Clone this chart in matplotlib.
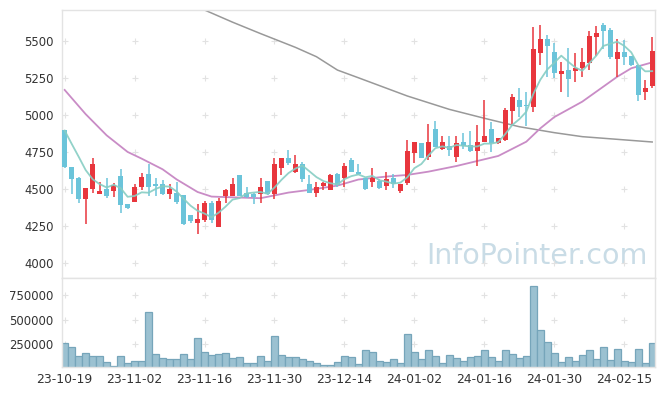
import matplotlib
matplotlib.use('Agg')
import matplotlib.pyplot as plt
import numpy as np
import pandas as pd

# daily candles, 23-10-19 .. 24-02-21 (85 trading days)
opens = [4898, 4647, 4575, 4435, 4500, 4469, 4500, 4489, 4588, 4397,
         4415, 4516, 4602, 4534, 4534, 4469, 4476, 4460, 4325, 4274,
         4292, 4406, 4247, 4456, 4456, 4595, 4474, 4469, 4465, 4554,
         4469, 4644, 4709, 4615, 4669, 4534, 4476, 4523, 4494, 4604,
         4572, 4696, 4613, 4572, 4548, 4554, 4523, 4572, 4489, 4539,
         4745, 4808, 4714, 4905, 4768, 4790, 4718, 4819, 4795, 4759,
         4819, 4905, 4808, 4828, 5028, 5100, 5065, 5055, 5418, 5509,
         5424, 5278, 5302, 5298, 5314, 5352, 5527, 5608, 5572, 5379,
         5424, 5397, 5334, 5156, 5197]
highs = [4900, 4650, 4580, 4510, 4709, 4550, 4572, 4541, 4633, 4400,
         4534, 4611, 4669, 4575, 4561, 4534, 4545, 4462, 4328, 4397,
         4417, 4420, 4438, 4503, 4577, 4597, 4516, 4476, 4572, 4556,
         4709, 4712, 4763, 4727, 4685, 4595, 4550, 4546, 4600, 4608,
         4673, 4709, 4667, 4575, 4640, 4566, 4613, 4599, 4537, 4828,
         4818, 4810, 4936, 4956, 4860, 4860, 4858, 4876, 4891, 4930,
         5100, 4950, 4846, 5044, 5138, 5179, 5155, 5590, 5603, 5540,
         5482, 5354, 5448, 5419, 5448, 5567, 5599, 5621, 5583, 5509,
         5504, 5400, 5336, 5233, 5527]
lows = [4645, 4465, 4408, 4262, 4476, 4465, 4442, 4449, 4337, 4363,
        4410, 4494, 4453, 4455, 4460, 4431, 4397, 4258, 4274, 4195,
        4278, 4269, 4245, 4404, 4450, 4450, 4442, 4397, 4404, 4458,
        4435, 4593, 4660, 4606, 4550, 4470, 4449, 4494, 4490, 4512,
        4516, 4612, 4595, 4492, 4514, 4498, 4492, 4507, 4474, 4530,
        4673, 4706, 4698, 4780, 4765, 4725, 4682, 4772, 4748, 4655,
        4815, 4748, 4805, 4825, 4936, 4983, 4925, 5018, 5336, 5255,
        5251, 5156, 5118, 5224, 5253, 5300, 5397, 5446, 5379, 5253,
        5334, 5330, 5093, 5098, 5179]
closes = [4651, 4570, 4435, 4505, 4669, 4487, 4456, 4525, 4395, 4375,
          4514, 4579, 4512, 4521, 4469, 4500, 4415, 4267, 4287, 4298,
          4404, 4292, 4420, 4492, 4534, 4456, 4449, 4449, 4514, 4469,
          4669, 4709, 4676, 4669, 4566, 4476, 4514, 4543, 4595, 4525,
          4655, 4617, 4599, 4500, 4572, 4510, 4568, 4532, 4534, 4754,
          4815, 4709, 4815, 4784, 4815, 4763, 4808, 4790, 4759, 4815,
          4858, 4808, 4842, 5033, 5118, 5053, 5058, 5444, 5509, 5466,
          5280, 5296, 5239, 5316, 5356, 5531, 5552, 5567, 5392, 5424,
          5392, 5334, 5136, 5181, 5430]
volumes = [258000, 217000, 134000, 165000, 134000, 134000, 72000, 31000, 134000, 62000,
           83000, 83000, 578000, 155000, 113000, 103000, 103000, 155000, 103000, 310000,
           175000, 144000, 155000, 165000, 113000, 124000, 62000, 62000, 134000, 83000,
           330000, 144000, 124000, 124000, 103000, 83000, 62000, 41000, 41000, 72000,
           134000, 124000, 52000, 186000, 175000, 83000, 72000, 103000, 62000, 351000,
           175000, 103000, 186000, 134000, 62000, 144000, 113000, 83000, 124000, 134000,
           196000, 124000, 83000, 186000, 155000, 113000, 134000, 846000, 392000, 268000,
           165000, 72000, 124000, 83000, 144000, 186000, 103000, 217000, 93000, 206000,
           83000, 72000, 206000, 62000, 258000]

# first four MA5 points (window reaches before the chart)
ma5_head = [4894, 4805, 4718, 4628]
# MA20 and long MA at some candles
ma20_idx = [0, 3, 6, 9, 11, 14, 16, 19, 21, 24, 28, 32, 35, 39, 42, 46, 49, 52, 56,
            62, 66, 68, 70, 74, 79, 81, 84]
ma20_val = [5168, 5005, 4862, 4750, 4705, 4633, 4565, 4480, 4449, 4444, 4438, 4476,
            4494, 4523, 4564, 4584, 4595, 4617, 4655, 4723, 4819, 4909, 4985, 5089,
            5257, 5314, 5354]
malong_idx = [19, 20, 24, 28, 33, 36, 39, 42, 49, 55, 60, 65, 70, 74, 79, 84]
malong_val = [5725, 5707, 5625, 5548, 5455, 5392, 5302, 5250, 5127, 5037, 4977,
              4920, 4880, 4853, 4835, 4817]

tick_pos = [0, 10, 20, 30, 40, 50, 60, 70, 80]
tick_labels = ['23-10-19', '23-11-02', '23-11-16', '23-11-30', '23-12-14',
               '24-01-02', '24-01-16', '24-01-30', '24-02-15']
price_ticks = [4000, 4250, 4500, 4750, 5000, 5250, 5500]
vol_ticks = [250000, 500000, 750000]

o = np.array(opens); h = np.array(highs); l = np.array(lows); c = np.array(closes)
x = np.arange(len(o))
up = c >= o
RED = '#e8363d'
BLUE = '#6bc4da'
cols = np.where(up, RED, BLUE)

ma5 = pd.Series(c).rolling(5).mean().values
ma5[:4] = ma5_head

fig = plt.figure(figsize=(6.65, 3.96), dpi=100)
ax = fig.add_axes([62/665, 1-278/396, 593/665, 268/396])
axv = fig.add_axes([62/665, 1-367/396, 593/665, 89/396], sharex=ax)

# long MA drawn first (behind)
ax.plot(malong_idx, malong_val, color='#999999', lw=1.1, zorder=1)
ax.plot(ma20_idx, ma20_val, color='#c98cc6', lw=1.3, zorder=1)

ax.vlines(x, l, h, colors=cols, lw=1.1, zorder=2)
body = np.maximum(np.abs(c - o), 6)
ax.bar(x, body, bottom=np.minimum(o, c), width=0.7, color=cols, zorder=3)
ax.plot(x, ma5, color='#86cdc3', lw=1.3, alpha=0.9, zorder=4)

ax.text(0.988, 0.03, 'InfoPointer.com', transform=ax.transAxes, ha='right',
        va='bottom', fontsize=20.5, color='#c9dce6', zorder=0)

axv.bar(x, volumes, width=1.0, color='#9bc1d1', edgecolor='#76a5ba', lw=0.9)

ax.set_xlim(-0.38, 84.4)
ax.set_ylim(3900, 5707)
axv.set_ylim(17000, 928000)

# little "+" marks at the grid crossings
gx, gy = np.meshgrid(tick_pos, price_ticks)
ax.scatter(gx.ravel(), gy.ravel(), marker='+', s=16, color='#e2e2e2', lw=0.8, zorder=0)
gx, gy = np.meshgrid(tick_pos, vol_ticks)
axv.scatter(gx.ravel(), gy.ravel(), marker='+', s=16, color='#e2e2e2', lw=0.8, zorder=0)

ax.set_yticks(price_ticks)
axv.set_yticks(vol_ticks)
axv.set_xticks(tick_pos)
axv.set_xticklabels(tick_labels)
plt.setp(ax.get_xticklabels(), visible=False)

for a in (ax, axv):
    a.tick_params(length=0, labelsize=8.4, colors='#333333', pad=6)
    for s in a.spines.values():
        s.set_color('#e3e3e3')
        s.set_linewidth(1)
    a.set_facecolor('white')
axv.tick_params(axis='x', pad=4, labelsize=8.9)

plt.savefig('out.png', dpi=100)
